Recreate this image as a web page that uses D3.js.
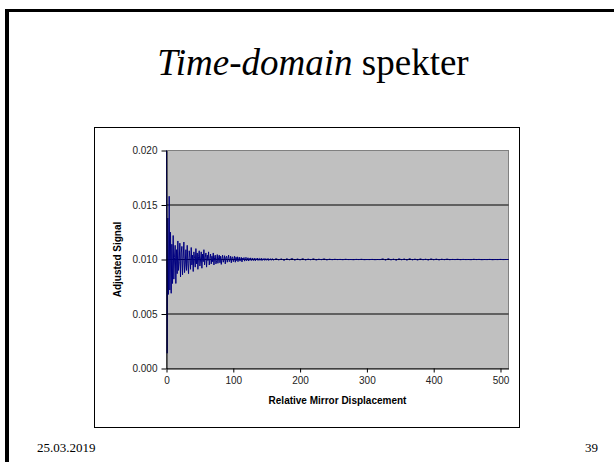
<!DOCTYPE html>
<html>
<head>
<meta charset="utf-8">
<script src="https://cdn.jsdelivr.net/npm/d3@7"></script>
<style>
    body { margin: 0; background: #ffffff; }
    svg { display: block; }
</style>
</head>
<body>
<svg id="slide_svg"></svg>
<script>
/**
 * Chart values (signal stored in units of 1e-5)
 */
var headStart = 0, headStep = 1;     // busy part read at every displacement step
var tailStart = 160, tailStep = 4;   // flat part read every 4th step

var sigHead = [
    2000, 140, 1380, 680, 1580, 720, 1250, 690, 1140, 780,
    1220, 820, 1020, 1130, 780, 1090, 870, 1170, 900, 980,
    1150, 840, 1060, 1120, 860, 1010, 1160, 880, 950, 1090,
    900, 1130, 960, 870, 1080, 1020, 910, 1110, 950, 1040,
    890, 1070, 1010, 930, 1100, 960, 1060, 910, 1030, 1080,
    940, 1000, 1070, 920, 1050, 980, 1090, 950, 1020, 1060,
    930, 1040, 990, 1070, 950, 1010, 1050, 960, 1030, 980,
    1060, 950, 1020, 1040, 960, 990, 1045, 965, 1020, 1040,
    970, 1030, 955, 1010, 1040, 975, 1000, 1035, 960, 1020,
    1030, 975, 1010, 1040, 980, 995, 1030, 970, 1015, 1025,
    980, 1000, 1030, 975, 1020, 990, 1025, 980, 1010, 1022,
    985, 1005, 1020, 978, 1012, 995, 1018, 985, 1008, 1020,
    988, 1002, 1016, 986, 1010, 994, 1015, 990, 1005, 1014,
    990, 1004, 1012, 988, 1008, 996, 1013, 991, 1006, 1010,
    992, 1003, 1012, 990, 1006, 996, 1010, 992, 1004, 1009,
    993, 1002, 1010, 991, 1005, 997, 1008, 993, 1003, 1007
];

var sigTail = [
    994, 1008, 996, 1006, 992, 1007, 997, 1009, 994, 1005,
    996, 1008, 995, 1004, 997, 1007, 995, 1003, 998, 1006,
    996, 1003, 998,
    1002, 999, 1001, 998, 1002, 999, 1000, 998, 1001, 999,
    1002, 998, 1000, 999, 1001, 998, 1000, 999,
    1006, 994, 1008, 996, 1004, 993, 1007, 997, 1005, 994,
    1008, 996, 1004, 995, 1006, 997, 1003, 995, 1006, 997,
    1004, 996, 1003, 998, 1004,
    998, 1001, 999, 1002, 998, 1001, 999, 1000, 998, 1002,
    999, 1001, 998, 1000, 999, 1001, 998, 1000, 999, 1001,
    999, 1000, 1000
];

var xTicks = [0, 100, 200, 300, 400, 500];
var yTicks = [0.000, 0.005, 0.010, 0.015, 0.020];

var titleItalic = "Time-domain";
var titleRest = " spekter";
var xTitle = "Relative Mirror Displacement";
var yTitle = "Adjusted Signal";
var footDate = "25.03.2019";
var footPage = "39";

var W = 614, H = 462;
var box = {left: 94.5, top: 127.5, right: 519.5, bottom: 427.5};
var plot = {left: 166.5, top: 150.5, right: 508.5, bottom: 368.5};

window.onload = function(){
    drawSlide();
};

function drawSlide() {
    var svg = d3.select("#slide_svg")
        .attr("width", W)
        .attr("height", H);

    svg.append("rect")
        .attr("width", W).attr("height", H)
        .style("fill", "#ffffff");

    // slide frame (top and left edges)
    svg.append("rect")
        .attr("x", 5).attr("y", 9)
        .attr("width", W - 5).attr("height", 3)
        .style("fill", "#000000");
    svg.append("rect")
        .attr("x", 5).attr("y", 9)
        .attr("width", 4).attr("height", H - 9)
        .style("fill", "#000000");

    // title
    var title = svg.append("text")
        .attr("x", 313)
        .attr("y", 75)
        .style("text-anchor", "middle")
        .style("font-family", "'Liberation Serif', 'Times New Roman', serif")
        .style("font-size", "37px")
        .style("fill", "#000000");
    title.append("tspan").style("font-style", "italic").text(titleItalic);
    title.append("tspan").text(titleRest);

    // chart box
    svg.append("rect")
        .attr("x", box.left).attr("y", box.top)
        .attr("width", box.right - box.left)
        .attr("height", box.bottom - box.top)
        .style("fill", "#ffffff")
        .style("stroke", "#000000")
        .style("stroke-width", "1px");

    var xScale = d3.scaleLinear()
        .domain([0, 512])
        .range([plot.left, plot.right]);

    var yScale = d3.scaleLinear()
        .domain([0, 0.02])
        .range([plot.bottom, plot.top]);

    // plot area
    svg.append("rect")
        .attr("x", plot.left).attr("y", plot.top)
        .attr("width", plot.right - plot.left)
        .attr("height", plot.bottom - plot.top)
        .style("fill", "#c0c0c0")
        .style("stroke", "#808080")
        .style("stroke-width", "1px");

    // gridlines
    svg.append("g")
        .selectAll("line")
        .data(yTicks.filter(function(d){ return d > 0 && d < 0.02; }))
        .enter()
        .append("line")
        .attr("x1", plot.left).attr("x2", plot.right)
        .attr("y1", function(d){ return yScale(d); })
        .attr("y2", function(d){ return yScale(d); })
        .style("stroke", "#000000")
        .style("stroke-width", "1px");

    // build series
    var points = [];
    sigHead.forEach(function(v, i){
        points.push({x: headStart + i * headStep, y: v / 1e5});
    });
    sigTail.forEach(function(v, i){
        points.push({x: tailStart + i * tailStep, y: v / 1e5});
    });

    var line = d3.line()
        .x(function(d){ return xScale(d.x); })
        .y(function(d){ return yScale(d.y); });

    svg.append("path")
        .datum(points)
        .attr("d", line)
        .style("fill", "none")
        .style("stroke", "#000080")
        .style("stroke-width", "1px");

    // axes
    var xAxis = d3.axisBottom(xScale)
        .tickValues(xTicks)
        .tickSizeInner(4)
        .tickSizeOuter(0)
        .tickPadding(4)
        .tickFormat(d3.format("d"));

    var yAxis = d3.axisLeft(yScale)
        .tickValues(yTicks)
        .tickSizeInner(5)
        .tickSizeOuter(0)
        .tickPadding(4)
        .tickFormat(d3.format(".3f"));

    var gx = svg.append("g")
        .attr("transform", "translate(0," + plot.bottom + ")")
        .call(xAxis);
    var gy = svg.append("g")
        .attr("transform", "translate(" + plot.left + ",0)")
        .call(yAxis);

    gx.select(".domain").style("stroke", "#000000");
    gy.select(".domain").style("stroke", "#000000");
    [gx, gy].forEach(function(g){
        g.selectAll(".tick line").style("stroke", "#000000");
        g.selectAll(".tick text")
            .style("font-family", "Arial, 'Liberation Sans', sans-serif")
            .style("font-size", "10px")
            .style("fill", "#222222");
    });

    // axis titles
    svg.append("text")
        .attr("x", (plot.left + plot.right) / 2)
        .attr("y", 404)
        .style("text-anchor", "middle")
        .style("font-family", "Arial, 'Liberation Sans', sans-serif")
        .style("font-size", "10px")
        .style("font-weight", "bold")
        .text(xTitle);

    svg.append("text")
        .attr("transform", "translate(121," + ((plot.top + plot.bottom) / 2) + ") rotate(-90)")
        .style("text-anchor", "middle")
        .style("font-family", "Arial, 'Liberation Sans', sans-serif")
        .style("font-size", "10px")
        .style("font-weight", "bold")
        .text(yTitle);

    // footer
    svg.append("text")
        .attr("x", 37).attr("y", 452)
        .style("font-family", "'Liberation Serif', 'Times New Roman', serif")
        .style("font-size", "13px")
        .text(footDate);
    svg.append("text")
        .attr("x", 598).attr("y", 452)
        .style("text-anchor", "end")
        .style("font-family", "'Liberation Serif', 'Times New Roman', serif")
        .style("font-size", "13px")
        .text(footPage);
}
</script>
</body>
</html>
